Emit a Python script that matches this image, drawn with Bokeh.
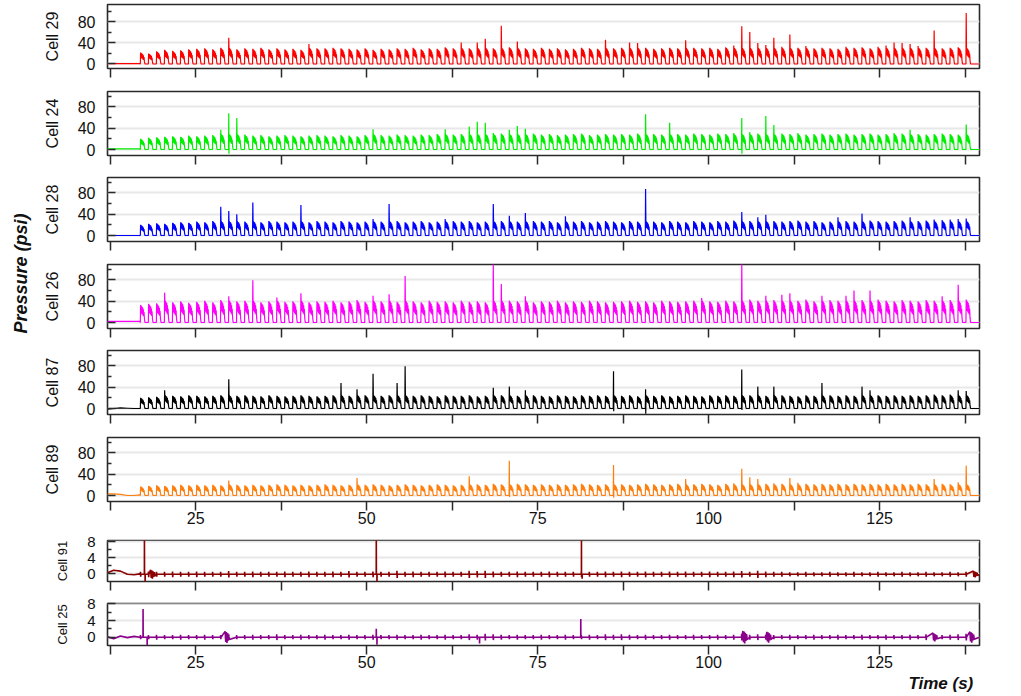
import math
from bokeh.plotting import figure
from bokeh.layouts import row, column
from bokeh.models import FixedTicker, Range1d
from bokeh.core.properties import value
from bokeh.embed import file_html
from bokeh.resources import INLINE

FONT = "Liberation Sans"

# ---------------- data ----------------
X_START, X_END = 12.1, 139.6
T0 = 16.9          # onset of first pressure pulse (s)
PERIOD = 1.172     # spacing between pulses (s)
PRE_T = [12.1, 13.0, 14.0, 15.0, 16.0, 16.8]
X_TICKS = [25, 50, 75, 100, 125]
X_MINOR = [12.5, 37.5, 62.5, 87.5, 112.5, 137.5]

cells = ["Cell 29", "Cell 24", "Cell 28", "Cell 26", "Cell 87", "Cell 89"]
colors = ["#ff0000", "#00ee00", "#0000ff", "#ff00ff", "#000000", "#ff7f0e"]
caps = [32, 30, 28, 43, 26, 22]

peaks_29 = [22, 20, 24, 27, 25, 26, 28, 29, 30, 28,
            31, 50, 28, 30, 29, 31, 28, 30, 28, 29,
            27, 38, 30, 30, 31, 30, 29, 28, 30, 27,
            29, 28, 30, 29, 31, 28, 30, 29, 32, 30,
            41, 30, 41, 48, 30, 73, 32, 43, 30, 29,
            31, 29, 30, 28, 29, 31, 30, 29, 46, 30,
            31, 41, 40, 31, 29, 30, 31, 30, 45, 31,
            30, 31, 29, 32, 35, 72, 61, 40, 36, 50,
            33, 56, 31, 34, 30, 31, 30, 29, 33, 31,
            32, 30, 33, 35, 41, 40, 38, 34, 31, 64,
            30, 31, 32, 97]
peaks_24 = [20, 22, 23, 24, 25, 24, 26, 25, 26, 27,
            37, 68, 59, 28, 26, 27, 25, 26, 27, 26,
            25, 26, 27, 26, 25, 27, 26, 25, 27, 38,
            27, 26, 28, 27, 26, 28, 27, 29, 38, 28,
            29, 43, 52, 50, 31, 30, 37, 44, 39, 30,
            28, 29, 27, 28, 29, 30, 27, 28, 29, 28,
            29, 28, 30, 66, 29, 28, 50, 29, 28, 30,
            29, 28, 30, 29, 31, 59, 33, 30, 63, 46,
            30, 29, 31, 28, 29, 30, 28, 29, 30, 28,
            29, 30, 28, 29, 31, 30, 37, 29, 28, 29,
            30, 29, 28, 47]
peaks_28 = [20, 22, 23, 22, 24, 25, 24, 26, 25, 27,
            54, 46, 40, 26, 62, 25, 27, 26, 25, 26,
            57, 25, 27, 26, 25, 27, 26, 25, 26, 31,
            26, 59, 27, 25, 26, 27, 25, 26, 31, 27,
            26, 27, 25, 26, 59, 27, 37, 26, 42, 27,
            26, 27, 25, 36, 26, 27, 25, 26, 27, 26,
            25, 27, 26, 87, 26, 25, 27, 26, 25, 27,
            26, 25, 27, 26, 28, 44, 27, 34, 39, 27,
            26, 27, 28, 26, 27, 25, 26, 34, 27, 26,
            41, 28, 27, 26, 27, 28, 34, 27, 28, 30,
            29, 30, 31, 32]
peaks_26 = [33, 35, 36, 56, 38, 40, 37, 39, 41, 38,
            42, 49, 40, 41, 79, 38, 40, 47, 39, 40,
            55, 38, 40, 39, 41, 38, 40, 42, 39, 50,
            40, 53, 39, 87, 40, 38, 41, 39, 40, 38,
            41, 39, 40, 38, 112, 72, 41, 40, 49, 38,
            40, 39, 41, 38, 40, 39, 41, 40, 38, 39,
            40, 41, 39, 40, 38, 41, 40, 39, 40, 41,
            46, 40, 39, 41, 40, 112, 43, 41, 50, 42,
            52, 55, 41, 43, 40, 50, 42, 41, 50, 60,
            42, 60, 43, 41, 40, 42, 41, 40, 42, 41,
            49, 42, 71, 43]
peaks_87 = [20, 21, 22, 34, 24, 23, 25, 24, 23, 24,
            25, 55, 24, 25, 24, 23, 25, 24, 23, 24,
            25, 24, 23, 24, 25, 48, 24, 36, 25, 65,
            24, 25, 48, 79, 24, 25, 24, 23, 25, 24,
            24, 25, 23, 24, 39, 25, 41, 24, 34, 25,
            24, 23, 25, 24, 23, 25, 24, 25, 24, 70,
            24, 25, 23, 36, 24, 25, 23, 24, 25, 24,
            23, 25, 24, 25, 24, 73, 25, 41, 24, 41,
            25, 24, 23, 25, 24, 48, 25, 24, 25, 24,
            41, 34, 25, 24, 25, 24, 25, 24, 25, 26,
            25, 26, 34, 33]
peaks_89 = [17, 18, 19, 18, 19, 20, 19, 20, 19, 20,
            19, 28, 20, 19, 20, 19, 20, 21, 20, 19,
            20, 19, 20, 21, 20, 19, 20, 33, 20, 21,
            20, 19, 20, 21, 20, 19, 20, 21, 20, 19,
            20, 36, 21, 20, 22, 21, 65, 22, 21, 20,
            21, 20, 21, 20, 21, 22, 21, 20, 21, 57,
            21, 20, 21, 22, 21, 20, 21, 22, 31, 21,
            22, 21, 20, 22, 23, 50, 34, 31, 22, 23,
            22, 33, 24, 22, 21, 22, 21, 22, 21, 22,
            21, 22, 21, 22, 21, 22, 21, 22, 21, 31,
            22, 21, 25, 56]
peaks = [peaks_29, peaks_24, peaks_28, peaks_26, peaks_87, peaks_89]

pre_29 = [0.5, 0.5, 0.5, 0.5, 0.5, 0.5]
pre_24 = [1.0, 1.0, 1.2, 1.0, 1.0, 1.0]
pre_28 = [0.0, 0.0, 0.0, 0.0, 0.0, 0.0]
pre_26 = [2.0, 2.0, 2.0, 2.0, 2.0, 2.0]
pre_87 = [-1.0, 0.0, 1.0, 0.5, 0.0, 0.0]
pre_89 = [3.0, 3.0, 2.0, 0.0, 0.0, 1.0]
pres = [pre_29, pre_24, pre_28, pre_26, pre_87, pre_89]

dip_idx = [[], [11, 75], [], [], [59, 63, 75], [46, 59]]
dip_val = [[], [-8, -8], [], [], [-5, -10, -3], [-3, -4]]

# small-signal cells
blip_91 = [0.6, 0.7, 0.6, 0.6, 0.7, 0.6, 0.6, 0.7, 0.6, 0.6,
           0.6, 0.8, 0.6, 0.6, 0.7, 0.6, 0.6, 0.6, 0.7, 0.6,
           0.6, 0.7, 0.6, 0.6, 0.7, 0.6, 0.8, 0.6, 0.6, 0.7,
           0.6, 0.6, 0.9, 0.6, 0.7, 0.6, 0.6, 0.6, 0.7, 0.6,
           0.6, 0.9, 0.8, 0.9, 0.7, 0.6, 0.6, 0.7, 0.6, 0.6,
           0.6, 0.7, 0.6, 0.6, 0.6, 0.7, 0.6, 0.6, 0.7, 0.6,
           0.7, 0.6, 0.6, 0.7, 0.6, 0.6, 0.7, 0.6, 0.7, 0.6,
           0.6, 0.7, 0.6, 0.6, 0.7, 0.8, 0.6, 0.9, 0.7, 0.6,
           0.6, 0.5, 0.5, 0.6, 0.5, 0.5, 0.6, 0.5, 0.5, 0.6,
           0.5, 0.5, 0.6, 0.5, 0.5, 0.6, 0.5, 0.5, 0.6, 0.5,
           0.5, 0.6, 0.5, 0.6]
blip_25 = [0.5, 0.5, 0.6, 0.5, 0.5, 0.6, 0.5, 0.5, 0.6, 0.5,
           0.5, 0.6, 0.5, 0.5, 0.6, 0.5, 0.5, 0.7, 0.5, 0.5,
           0.6, 0.5, 0.5, 0.6, 0.5, 0.5, 0.6, 0.5, 0.5, 0.6,
           0.5, 0.5, 0.6, 0.5, 0.5, 0.6, 0.5, 0.5, 0.6, 0.5,
           0.5, 0.7, 0.6, 0.8, 0.7, 0.6, 0.5, 0.6, 0.5, 0.5,
           0.6, 0.5, 0.5, 0.6, 0.5, 0.5, 0.6, 0.5, 0.7, 0.6,
           0.7, 0.6, 0.5, 0.6, 0.5, 0.5, 0.6, 0.5, 0.5, 0.6,
           0.5, 0.5, 0.6, 0.5, 0.6, 0.8, 0.6, 0.7, 0.6, 0.5,
           0.5, 0.6, 0.5, 0.5, 0.6, 0.5, 0.5, 0.6, 0.5, 0.5,
           0.6, 0.5, 0.5, 0.6, 0.5, 0.5, 0.6, 0.5, 0.7, 0.6,
           0.5, 0.6, 0.7, 0.8]
pre_91 = [0.2, 0.8, 0.6, -0.2, -0.3, -0.1]
pre_25 = [0.1, -0.4, 0.3, -0.1, 0.2, 0.0]
base_91, base_25 = -0.2, 0.0
spike_t_91, spike_v_91 = [17.5, 51.4, 81.4], [9.5, 9.5, 9.5]
spike_t_25, spike_v_25 = [17.3, 51.4, 81.3], [6.8, 2.0, 4.4]
dip_t_91, dip_v_91 = [17.6, 51.5, 81.5], [-2.3, -2.3, -1.3]
dip_t_25, dip_v_25 = [17.9, 51.5, 66.5], [-2.0, -1.8, -1.5]
burst_t_91, burst_a_91 = [18.4, 138.7], [1.1, 0.8]
burst_t_25, burst_a_25 = [29.3, 105.0, 108.5, 132.8, 138.2], [1.4, 1.5, 1.3, 1.0, 1.3]

# ---------------- style constants ----------------
PULSE_DT = [0.0, 0.04, 0.09, 0.14, 0.19, 0.24, 0.29, 0.34, 0.39, 0.44, 0.49, 0.54, 0.60, 0.68]
PULSE_FR = [0.0, None, 0.55, 0.95, 0.5, 0.9, 0.45, 0.85, 0.4, 0.75, 0.35, 0.6, 0.2, 0.0]
BURST_SHAPE = [1.0, -0.8, 0.9, -1.0, 0.7, -0.6, 0.5, -0.4]
FRAME_W = 872
LEFT_W = 38
AXIS_COL = "#2a2a2a"
TEXT_COL = "#111111"


def pulse_trace(pk_list, pre, cap, d_idx, d_val):
    ts, ys = list(PRE_T), list(pre)
    dips = dict(zip(d_idx, d_val))
    for i, pk in enumerate(pk_list):
        t = T0 + PERIOD * i
        body = min(pk, cap)
        for k, (dt, fr) in enumerate(zip(PULSE_DT, PULSE_FR)):
            ts.append(t + dt)
            ys.append(pk if fr is None else fr * body)
            if k == 1 and i in dips:
                ts.append(t + 0.065)
                ys.append(dips[i])
    ts.append(X_END)
    ys.append(0.0)
    return ts, ys


def small_trace(pre, blips, base, sp_t, sp_v, dp_t, dp_v, bu_t, bu_a):
    pts = list(zip(PRE_T, pre))
    for i, a in enumerate(blips):
        t = T0 + PERIOD * i
        pts += [(t, base), (t + 0.02, base + a), (t + 0.05, base - a), (t + 0.08, base)]
    for t, v in zip(sp_t, sp_v):
        pts += [(t - 0.01, base), (t, v), (t + 0.02, base)]
    for t, v in zip(dp_t, dp_v):
        pts += [(t - 0.01, base), (t, v), (t + 0.02, base)]
    for t, a in zip(bu_t, bu_a):
        for k, s in enumerate(BURST_SHAPE):
            pts.append((t + 0.09 * k, base + a * s))
    pts.append((X_END, base))
    pts.sort()
    return [p[0] for p in pts], [p[1] for p in pts]


def make_panel(frame_h, yr, yticks, yminor, label, show_x, bt, bb, lab_size, tick_size):
    p = figure(frame_width=FRAME_W, frame_height=frame_h,
               x_range=Range1d(X_START, X_END), y_range=Range1d(*yr),
               output_backend="svg", toolbar_location=None,
               min_border_left=107 - LEFT_W, min_border_right=40,
               min_border_top=bt, min_border_bottom=bb)
    p.background_fill_color = "white"
    p.border_fill_color = "white"
    p.outline_line_color = AXIS_COL
    p.outline_line_width = 1.6
    p.outline_line_alpha = 1.0
    p.xgrid.visible = False
    yt = FixedTicker(ticks=yticks, minor_ticks=yminor)
    p.ygrid.ticker = yt
    p.ygrid.grid_line_color = "#e8e8e8"
    p.ygrid.grid_line_width = 2

    xa = p.xaxis[0]
    xa.ticker = FixedTicker(ticks=X_TICKS, minor_ticks=X_MINOR)
    xa.axis_line_color = None
    xa.major_tick_in = 0
    xa.major_tick_out = 9
    xa.minor_tick_in = 0
    xa.minor_tick_out = 9
    xa.major_tick_line_color = AXIS_COL
    xa.minor_tick_line_color = AXIS_COL
    xa.major_tick_line_width = 1.5
    xa.minor_tick_line_width = 1.5
    xa.major_label_text_font = FONT
    if show_x:
        xa.major_label_text_font_size = "16px"
        xa.major_label_text_color = TEXT_COL
        xa.major_label_standoff = 1
    else:
        xa.major_label_text_font_size = "1px"
        xa.major_label_text_color = None
        xa.major_label_standoff = 0

    ya = p.yaxis[0]
    ya.ticker = yt
    ya.axis_line_color = None
    ya.major_tick_in = 8
    ya.major_tick_out = 0
    ya.minor_tick_in = 4
    ya.minor_tick_out = 0
    ya.major_tick_line_color = AXIS_COL
    ya.minor_tick_line_color = AXIS_COL
    ya.major_tick_line_width = 1.5
    ya.minor_tick_line_width = 1.5
    ya.major_label_text_font = FONT
    ya.major_label_text_font_size = tick_size
    ya.major_label_text_color = TEXT_COL
    ya.major_label_standoff = 12
    ya.axis_label = label
    ya.axis_label_text_font = FONT
    ya.axis_label_text_font_size = lab_size
    ya.axis_label_text_font_style = "normal"
    ya.axis_label_text_color = TEXT_COL
    ya.axis_label_standoff = 14
    return p


# frame heights / borders per panel (pixels)
big_frames = [64, 64, 64, 64, 64, 64]
big_bt = [4, 2, 2, 2, 2, 2]
big_bb = [21, 20, 21, 20, 21, 30]
big_yr = [(-8.6, 113.3)] + [(-11.25, 108.75)] * 5

figs = []
for k in range(6):
    p = make_panel(big_frames[k], big_yr[k], [0, 40, 80], [20, 60, 100], cells[k],
                   k == 5, big_bt[k], big_bb[k], "16px", "16px")
    ts, ys = pulse_trace(peaks[k], pres[k], caps[k], dip_idx[k], dip_val[k])
    p.line(ts, ys, color=colors[k], line_width=1.2)
    figs.append(p)

p7 = make_panel(41, (-2.0, 8.25), [0, 4, 8], [2, 6], "Cell 91", False, 9, 13, "13px", "15px")
ts, ys = small_trace(pre_91, blip_91, base_91, spike_t_91, spike_v_91,
                     dip_t_91, dip_v_91, burst_t_91, burst_a_91)
p7.line(ts, ys, color="#8b0000", line_width=1.6)
figs.append(p7)

p8 = make_panel(42, (-2.0, 8.1), [0, 4, 8], [2, 6], "Cell 25", True, 9, 28, "13px", "15px")
ts, ys = small_trace(pre_25, blip_25, base_25, spike_t_25, spike_v_25,
                     dip_t_25, dip_v_25, burst_t_25, burst_a_25)
p8.line(ts, ys, color="#8b008b", line_width=1.6)
figs.append(p8)

# bottom strip carrying the x-axis title, right-aligned like the reference
TW = 1019 - LEFT_W
tfig = figure(width=TW, height=22, x_range=Range1d(0, TW), y_range=Range1d(0, 22),
              output_backend="svg", toolbar_location=None, min_border=0)
tfig.axis.visible = False
tfig.grid.visible = False
tfig.outline_line_color = None
tfig.text(x=[1012 - LEFT_W], y=[12], text=["Time (s)"], text_align="right",
          text_baseline="middle", text_font=value(FONT), text_font_size="17px",
          text_font_style="bold italic", text_color=TEXT_COL)
figs.append(tfig)

total_h = 695
lab = figure(width=LEFT_W, height=total_h, x_range=Range1d(0, LEFT_W), y_range=Range1d(0, total_h),
             output_backend="svg", toolbar_location=None, min_border=0)
lab.axis.visible = False
lab.grid.visible = False
lab.outline_line_color = None
lab.text(x=[20], y=[total_h - 273], text=["Pressure (psi)"], angle=math.pi / 2,
         text_align="center", text_baseline="middle", text_font=value(FONT),
         text_font_size="18px", text_font_style="bold italic", text_color=TEXT_COL)

layout = row(lab, column(*figs, spacing=0), spacing=0)
open("out.html", "w").write(file_html(layout, INLINE))
